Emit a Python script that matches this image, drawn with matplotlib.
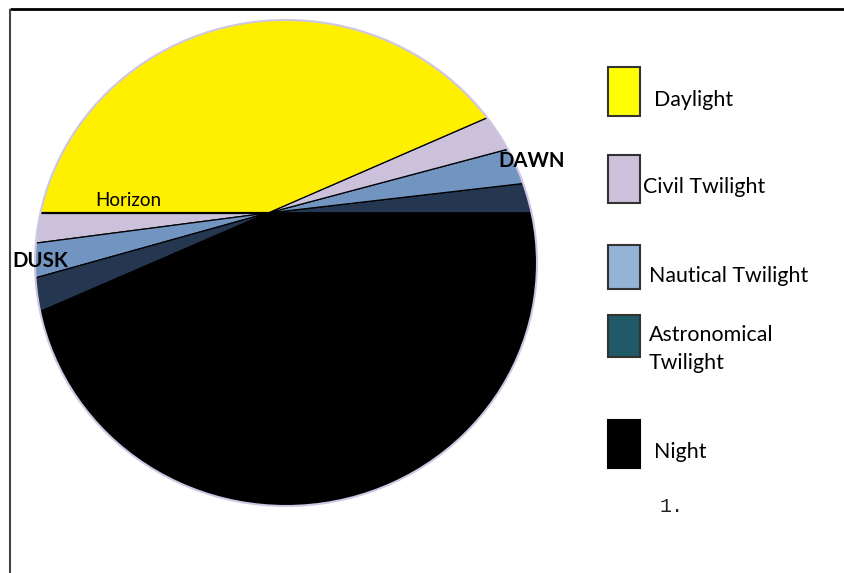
import matplotlib
matplotlib.use("Agg")
import matplotlib.pyplot as plt
from matplotlib.patches import Wedge, Ellipse, Rectangle

# Segments of the day, as angles (degrees) swept counter-clockwise from the east side
segments = ["Astronomical Twilight", "Nautical Twilight", "Civil Twilight", "Daylight",
            "Civil Twilight", "Nautical Twilight", "Astronomical Twilight", "Night"]
spans = [6.6, 8.3, 8.6, 156.5, 7.4, 8.2, 7.8, 156.6]

# pie colours (as painted) and legend swatch colours
pie_colors = {"Daylight": "#FFF000", "Civil Twilight": "#CCC1DA",
              "Nautical Twilight": "#7194C1", "Astronomical Twilight": "#243650",
              "Night": "#000000"}
legend_names = ["Daylight", "Civil Twilight", "Nautical Twilight",
                "Astronomical\nTwilight", "Night"]
legend_colors = ["#FFFF00", "#CCC1DA", "#95B3D7", "#215968", "#000000"]

W, H = 844, 573
fig = plt.figure(figsize=(W / 100, H / 100), dpi=100)
ax = fig.add_axes([0, 0, 1, 1])
ax.set_xlim(0, W)
ax.set_ylim(0, H)
ax.axis("off")

font = ["Lato", "DejaVu Sans"]

# outer frame (top and left only)
ax.plot([10, W], [H - 9, H - 9], color="black", lw=2, solid_capstyle="butt")
ax.plot([10, 10], [0, H - 9], color="#444444", lw=1.5, solid_capstyle="butt")

# the disc, with wedges from the observer point on the horizon
disc_c = (286, H - 263)
disc = Ellipse(disc_c, 502, 486, facecolor="none", edgecolor="#CFC6E4", lw=1.5, zorder=5)
ax.add_patch(disc)
apex = (268, H - 213)

start = 0.0
for name, span in zip(segments, spans):
    w = Wedge(apex, 400, start, start + span, facecolor=pie_colors[name],
              edgecolor="black", lw=0.9, zorder=2)
    ax.add_patch(w)
    w.set_clip_path(disc)
    start += span

# horizon line
hl, = ax.plot([0, apex[0]], [apex[1], apex[1]], color="black", lw=1.6, zorder=3)
hl.set_clip_path(disc)

ax.text(95, H - 201, "Horizon", fontsize=13.5, family=font, va="center", zorder=6)
ax.text(498, H - 161, "DAWN", fontsize=14.7, fontweight="bold", family=font, va="center", zorder=6)
ax.text(12, H - 261, "DUSK", fontsize=14.7, fontweight="bold", family=font, va="center", zorder=6)

# legend swatches
box_tops = [67, 155, 245, 315, 420]
box_h = [49, 48, 44, 42, 48]
text_x = [654, 643, 649, 649, 654]
text_y = [100, 187, 276, 349, 452]
for name, col, top, h, tx, ty in zip(legend_names, legend_colors, box_tops, box_h, text_x, text_y):
    ec = "#333333" if col != "#000000" else "#000000"
    ax.add_patch(Rectangle((608, H - top - h), 32, h, facecolor=col, edgecolor=ec, lw=1.5))
    ax.text(tx, H - ty, name, fontsize=15.4, family=font, va="center", linespacing=1.5)

ax.text(660, H - 507, "1.", fontsize=14.5, family="Liberation Mono", va="center", color="#222222")

fig.savefig("out.png", dpi=100)
